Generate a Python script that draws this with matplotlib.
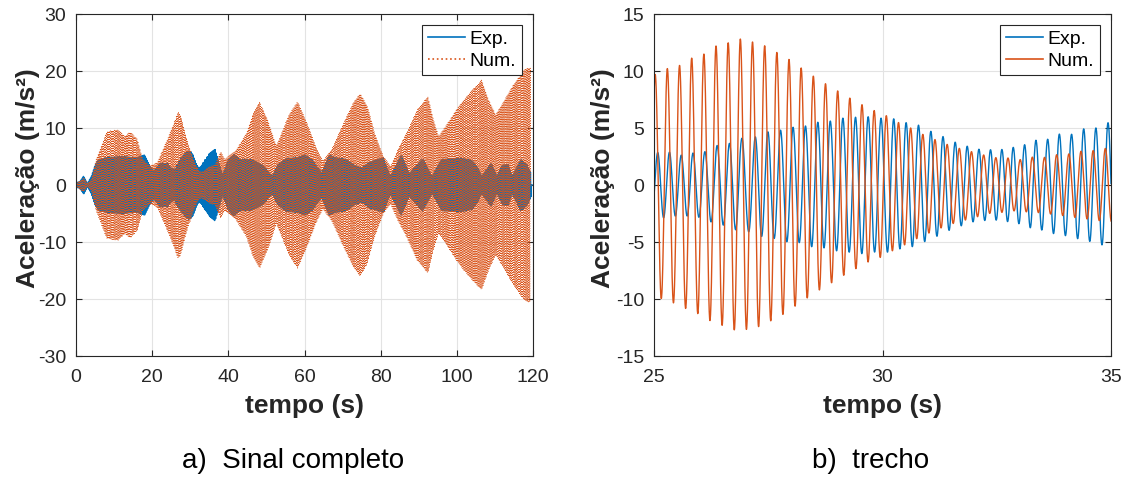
import numpy as np
import matplotlib
matplotlib.use('Agg')
import matplotlib.pyplot as plt

plt.rcParams['font.family'] = ['Liberation Sans', 'DejaVu Sans']
plt.rcParams['axes.unicode_minus'] = False

# carrier frequency (Hz) and time of first Num peak
freq = 3.756
t_peak0 = 25.025

# Num (numerical) envelope: time (s), amplitude (m/s2)
num_env_t = [0, 2, 3, 4, 5.3, 8.1, 11, 12.8, 14.2, 16.1, 17.5, 19.4, 21.3, 24,
             25.0, 25.28, 25.54, 25.8, 26.06, 26.31, 26.58, 26.84, 27.1, 27.36,
             27.63, 27.89, 28.15, 28.41, 28.68, 28.94, 29.2, 29.46, 29.73, 29.99,
             30.31, 30.57, 30.82, 31.08, 31.35, 31.6, 31.88, 32.15, 32.43, 32.7,
             32.98, 33.25, 33.52, 33.79, 34.05, 34.32, 34.58, 34.85,
             36.5, 38, 39, 40, 41.9, 44.7, 46.5, 48.2, 50.3, 52.6, 54, 55.9, 58.2,
             60.6, 62.9, 64.8, 67.1, 69.9, 72.8, 74.6, 76.5, 78.4, 80.7, 82.6,
             84.5, 86.8, 89.6, 92.4, 93.8, 95.2, 97.1, 99.9, 101.8, 103.7, 106.5,
             108.3, 110.2, 112.1, 114.9, 117.7, 118.6, 119.3]
num_env_a = [0.3, 1.2, 0.3, 1.0, 4.5, 9.4, 9.7, 8.5, 9.3, 8.0, 4.5, 3.3, 3.9, 8.0,
             9.65, 10.2, 10.45, 11.1, 11.4, 12.15, 12.4, 12.85, 12.6, 12.35,
             11.75, 11.2, 10.45, 9.75, 9.05, 8.45, 7.8, 7.25, 6.65, 6.3,
             5.55, 5.1, 4.55, 4.1, 3.65, 3.3, 3.0, 2.7, 2.4, 2.4,
             2.2, 2.45, 2.4, 2.65, 2.7, 2.95, 3.0, 3.2,
             3.5, 5.9, 4.5, 5.0, 6.0, 9.0, 12.6, 14.6, 11.4, 6.8, 9.1, 12.3, 14.6,
             10.9, 6.8, 4.2, 6.2, 10.3, 14.4, 16.0, 13.8, 9.1, 5.0, 3.3,
             6.2, 9.1, 13.2, 15.5, 11.5, 8.5, 10.3, 13.2, 14.9, 16.4, 18.4,
             15.0, 12.3, 14.4, 17.6, 20.2, 20.5, 20.5]

# Exp (experimental) envelope: time (s), amplitude (m/s2)
exp_env_t = [0, 1, 2, 3, 4, 5, 6, 8, 12, 16, 18, 19.5, 20.5, 22, 24,
             25.06, 25.32, 25.57, 25.83, 26.08, 26.34, 26.6, 26.87, 27.16, 27.42,
             27.68, 27.98, 28.24, 28.5, 28.78, 29.06, 29.32, 29.6, 29.87,
             30.18, 30.45, 30.73, 31.0, 31.25, 31.52, 31.78, 32.04, 32.3, 32.55,
             32.82, 33.06, 33.33, 33.59, 33.85, 34.12, 34.38, 34.65, 34.91,
             36.5, 37.5, 38.5, 40, 41.5, 43, 46, 49, 50.5, 51.5, 53, 55, 58, 60,
             62, 63.5, 64.5, 66.5, 68, 71, 73, 75, 77, 80.7, 82.5, 85.4, 87.5, 91,
             93.5, 96, 101, 104, 105.5, 106.5, 109, 110.5, 112, 113.5, 114.5,
             116.8, 118.5, 119.5]
exp_env_a = [0.4, 0.6, 1.6, 0.3, 1.5, 3.5, 4.5, 4.8, 5.0, 4.8, 5.3, 3.2, 2.5, 3.8, 3.8,
             2.85, 2.9, 2.6, 2.8, 2.85, 3.45, 3.55, 4.1, 4.1, 4.65,
             4.7, 5.07, 5.05, 5.5, 5.52, 5.85, 5.9, 6.05, 5.85,
             5.9, 5.5, 5.37, 4.8, 4.4, 3.85, 3.5, 3.15, 3.1, 3.07,
             3.27, 3.45, 3.92, 3.97, 4.47, 4.42, 4.92, 4.97, 5.45,
             6.3, 4.0, 1.8, 4.5, 5.4, 4.5, 4.5, 3.5, 2.3, 1.5, 3.5, 4.6, 4.8, 5.3,
             4.5, 3.0, 2.2, 5.3, 4.8, 4.5, 3.5, 3.0, 4.0, 4.8, 1.5, 5.3, 2.0, 4.6,
             1.5, 4.5, 4.7, 4.3, 3.0, 1.5, 3.8, 1.5, 3.5, 3.6, 1.5,
             4.5, 3.5, 2.0]

# phase lag of Exp behind Num (cycles)
lag_t = [25.06, 26.08, 26.87, 27.16, 27.98, 28.78, 29.6, 30.15, 31.0, 31.78,
         32.3, 32.82, 33.33, 33.85, 34.91]
lag_c = [0.21, 0.08, 0.11, 0.22, 0.33, 0.38, 0.49, 0.6, 0.66, 0.66,
         0.58, 0.44, 0.3, 0.22, 0.22]

t = np.arange(0, 120, 0.004)
num_amp = np.interp(t, num_env_t, num_env_a, right=0)
exp_amp = np.interp(t, exp_env_t, exp_env_a, right=0)
lag = np.interp(t, lag_t, lag_c)
num = num_amp * np.cos(2 * np.pi * freq * (t - t_peak0))
exp_sig = exp_amp * np.cos(2 * np.pi * (freq * (t - t_peak0) - lag))

blue = '#0072BD'
orange = '#D95319'
dark = '#262626'

fig = plt.figure(figsize=(11.3, 4.78), dpi=100)
ax1 = fig.add_axes([0.0673, 0.2552, 0.4044, 0.7155])
ax2 = fig.add_axes([0.5788, 0.2552, 0.4044, 0.7155])

ax1.plot(t, exp_sig, color=blue, lw=0.9, label='Exp.')
ax1.plot(t, num, color=orange, lw=0.65, ls=':', label='Num.')
ax1.set_xlim(0, 120)
ax1.set_ylim(-30, 30)
ax1.set_xticks(range(0, 121, 20))
ax1.set_yticks(range(-30, 31, 10))

mask = (t >= 25) & (t <= 35)
ax2.plot(t[mask], exp_sig[mask], color=blue, lw=1.0, label='Exp.')
ax2.plot(t[mask], num[mask], color=orange, lw=1.0, label='Num.')
ax2.set_xlim(25, 35)
ax2.set_ylim(-15, 15)
ax2.set_xticks([25, 30, 35])
ax2.set_yticks(range(-15, 16, 5))

for ax, lx in ((ax1, -0.079), (ax2, -0.085)):
    ax.grid(True, color='#e3e3e3', lw=0.8)
    ax.set_axisbelow(True)
    ax.tick_params(direction='in', top=True, right=True, length=4,
                   labelsize=14, colors=dark)
    ax.tick_params(axis='x', pad=9)
    ax.tick_params(axis='y', pad=7)
    for s in ax.spines.values():
        s.set_color(dark)
        s.set_linewidth(0.8)
    ax.set_xlabel('tempo (s)', fontsize=19, fontweight='bold', color=dark, labelpad=6)
    ax.set_ylabel('Aceleração (m/s²)', fontsize=19, fontweight='bold', color=dark)
    ax.yaxis.set_label_coords(lx, 0.52)
    leg = ax.legend(loc='upper right', fontsize=14, fancybox=False,
                    edgecolor=dark, framealpha=1, handlelength=1.9,
                    handletextpad=0.25, borderaxespad=0.55, labelspacing=0.2,
                    borderpad=0.3)
    leg.get_frame().set_linewidth(0.8)
    for line in leg.get_lines():
        line.set_linewidth(1.2)

fig.text(0.259, 0.021, 'a)  Sinal completo', fontsize=20, ha='center', va='baseline')
fig.text(0.770, 0.021, 'b)  trecho', fontsize=20, ha='center', va='baseline')

fig.savefig('out.png', dpi=100)
